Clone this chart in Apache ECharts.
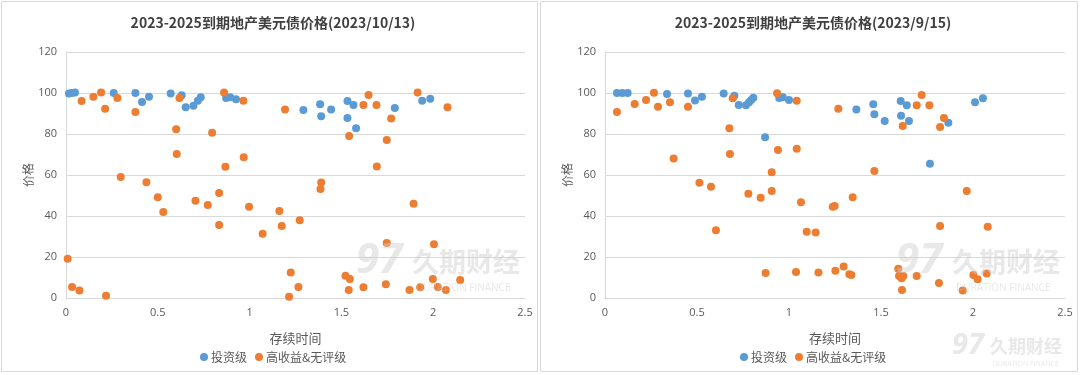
<!DOCTYPE html>
<html><head><meta charset="utf-8">
<script src="https://cdn.jsdelivr.net/npm/echarts@6/dist/echarts.min.js"></script>
<style>html,body{margin:0;padding:0;background:#fff}#c{width:1080px;height:375px}</style>
</head><body><div id="c"></div>
<script>
const titles = ['2023-2025到期地产美元债价格(2023/10/13)', '2023-2025到期地产美元债价格(2023/9/15)'];
const seriesNames = ['投资级', '高收益&无评级'];
const xAxisName = '存续时间';
const yAxisName = '价格';

// Left chart (2023/10/13): [remaining maturity, price]
const leftIG = [[0.016,99.8],[0.031,100],[0.049,100.2],[0.26,100],[0.378,100],[0.414,95.6],[0.452,98.2],[0.57,99.7],[0.63,98.9],[0.652,93],[0.694,93.8],[0.718,96.2],[0.734,97.9],[0.872,97.6],[0.894,97.9],[0.926,96.9],[1.293,91.7],[1.384,94.5],[1.39,88.6],[1.444,91.9],[1.533,96.1],[1.566,94.1],[1.533,87.8],[1.58,82.8],[1.791,92.7],[1.94,96.2],[1.984,97.2]];
const leftHY = [[0.085,96.1],[0.149,98.2],[0.191,100.2],[0.213,92.3],[0.28,97.6],[0.378,90.7],[0.298,59],[0.438,56.5],[0.618,97.6],[0.6,82.3],[0.603,70.2],[0.796,80.6],[0.861,100.2],[0.868,64],[0.966,96.2],[0.968,68.6],[0.5,49.1],[0.53,42],[0.705,47.5],[0.772,45.4],[0.834,51.2],[0.834,35.6],[0.997,44.5],[1.071,31.4],[1.162,42.4],[1.175,35.1],[1.273,37.9],[1.39,56.3],[1.386,53.2],[1.693,64.1],[1.893,46],[1.747,26.8],[2.004,26.2],[0.009,19.2],[0.033,5.4],[0.073,3.7],[0.218,1.1],[1.224,12.5],[1.266,5.4],[1.215,0.6],[1.522,10.9],[1.546,9.3],[1.54,3.9],[1.62,5.2],[1.742,6.7],[1.871,3.9],[1.929,5.2],[1.998,9.3],[2.025,5.4],[2.069,3.9],[2.147,8.8],[1.193,92],[1.648,99],[1.62,94.1],[1.691,94.1],[1.771,87.6],[1.542,79],[1.747,77.1],[1.915,100.2],[2.078,93]];

// Right chart (2023/9/15)
const rightIG = [[0.065,100],[0.094,100],[0.123,100],[0.337,99.5],[0.451,99.7],[0.489,96.4],[0.527,98.2],[0.645,99.7],[0.703,98.7],[0.727,94.1],[0.766,94],[0.783,95.5],[0.795,96.6],[0.806,97.7],[0.87,78.4],[0.947,97.6],[0.966,97.9],[1.0,96.6],[1.366,92],[1.458,94.5],[1.464,89.6],[1.52,86.3],[1.607,96.1],[1.64,94],[1.609,88.9],[1.652,86.3],[1.766,65.5],[1.866,85.5],[2.011,95.5],[2.054,97.4]];
const rightHY = [[0.065,90.7],[0.161,94.6],[0.223,96.6],[0.266,100.1],[0.288,93.3],[0.353,95.5],[0.451,93.3],[0.373,68.1],[0.676,82.8],[0.679,70.2],[0.694,97.4],[0.935,99.9],[0.94,72.2],[1.042,96.2],[1.042,72.8],[0.906,61.3],[0.513,56.2],[0.576,54.3],[0.603,33],[0.779,50.9],[0.846,48.9],[0.906,52.2],[0.873,12.2],[1.038,12.7],[1.065,46.7],[1.096,32.3],[1.145,32],[1.16,12.5],[1.464,62],[1.346,49.1],[1.238,44.5],[1.248,44.9],[1.966,52.2],[1.821,35.1],[2.08,34.8],[1.252,13.3],[1.297,15.4],[1.328,11.6],[1.339,11.2],[1.594,14.3],[1.598,10.7],[1.621,10.7],[1.612,9.6],[1.694,10.7],[1.614,3.9],[1.815,7.3],[1.944,3.7],[2.002,11.2],[2.025,9.1],[2.074,12],[1.268,92.3],[1.721,99],[1.694,94],[1.763,94],[1.618,83.9],[1.842,87.8],[1.821,83.4]];

const xMin = 0, xMax = 2.5, xInterval = 0.5;
const yMin = 0, yMax = 120, yInterval = 20;

const BLUE = '#5B9BD5', ORANGE = '#ED7D31';
const FONT = '"Noto Sans CJK SC", "Noto Sans", sans-serif';
const chart = echarts.init(document.getElementById('c'));

const grids = [
  {left: 66, top: 52, width: 459, height: 246},
  {left: 605, top: 52, width: 460, height: 246}
];
function xAx(i){return {gridIndex:i,type:'value',min:xMin,max:xMax,interval:xInterval,
  name:xAxisName,nameLocation:'middle',nameGap:34,nameTextStyle:{color:'#595959',fontSize:13,fontFamily:FONT},
  axisLine:{show:true,lineStyle:{color:'#d9d9d9'}},axisTick:{show:false},
  axisLabel:{color:'#595959',fontSize:11,margin:9,fontFamily:'"Open Sans", sans-serif'},splitLine:{show:false}};}
function yAx(i){return {gridIndex:i,type:'value',min:yMin,max:yMax,interval:yInterval,
  name:yAxisName,nameLocation:'middle',nameGap:30,nameRotate:90,nameTextStyle:{color:'#595959',fontSize:12,fontFamily:FONT},
  axisLine:{show:true,lineStyle:{color:'#d9d9d9'}},axisTick:{show:false},
  axisLabel:{color:'#595959',fontSize:11,margin:9,fontFamily:'"Open Sans", sans-serif'},
  splitLine:{lineStyle:{color:'#d9d9d9'}}};}
function sc(name,data,color,i){return {name,type:'scatter',xAxisIndex:i,yAxisIndex:i,data,symbolSize:8,
  itemStyle:{color,opacity:1},emphasis:{disabled:true}};}

function wm(cx, cy, s){
  const c = 'rgba(205,205,205,0.45)';
  return [
    {type:'text',left:cx,top:cy,z:100,silent:true,style:{text:'久期财经',fill:c,font:'bold '+Math.round(27*s)+'px '+FONT}},
    {type:'text',left:cx+4*s,top:cy+35*s,z:100,silent:true,style:{text:'DURATION FINANCE',fill:c,font:Math.round(10*s)+'px "Open Sans", sans-serif'}},
    {type:'text',left:cx-56*s,top:cy-8*s,z:100,silent:true,style:{text:'97',fill:c,font:'italic bold '+Math.round(42*s)+'px "Open Sans", sans-serif'}}
  ];
}

chart.setOption({
  animation:false,
  title:[
    {text:titles[0],left:268,top:11,textAlign:'center',textStyle:{fontSize:14,fontWeight:'bold',color:'#404040',fontFamily:FONT}},
    {text:titles[1],left:808,top:11,textAlign:'center',textStyle:{fontSize:14,fontWeight:'bold',color:'#404040',fontFamily:FONT}}
  ],
  legend:[
    {data:seriesNames.map(n=>({name:n})),left:195,top:346,itemWidth:8,itemHeight:8,itemGap:8,icon:'circle',
      textStyle:{color:'#595959',fontSize:12,fontFamily:FONT,padding:[0,0,0,-2]},selectedMode:false,
      formatter:n=>n},
    {data:seriesNames.map(n=>({name:n+' '})),left:735,top:346,itemWidth:8,itemHeight:8,itemGap:8,icon:'circle',
      textStyle:{color:'#595959',fontSize:12,fontFamily:FONT,padding:[0,0,0,-2]},selectedMode:false,
      formatter:n=>n.trim()}
  ],
  grid:grids,
  xAxis:[xAx(0),xAx(1)],
  yAxis:[yAx(0),yAx(1)],
  series:[
    sc(seriesNames[0],leftIG,BLUE,0),
    sc(seriesNames[1],leftHY,ORANGE,0),
    sc(seriesNames[0]+' ',rightIG,BLUE,1),
    sc(seriesNames[1]+' ',rightHY,ORANGE,1)
  ],
  graphic:[
    {type:'rect',shape:{x:1.5,y:1.5,width:536,height:370},style:{fill:'none',stroke:'#d9d9d9',lineWidth:1},z:-1},
    {type:'rect',shape:{x:540.5,y:1.5,width:537,height:370},style:{fill:'none',stroke:'#d9d9d9',lineWidth:1},z:-1}
  ].concat(wm(412,248,1), wm(952,248,1), wm(990,337,0.68))
});
</script></body></html>
